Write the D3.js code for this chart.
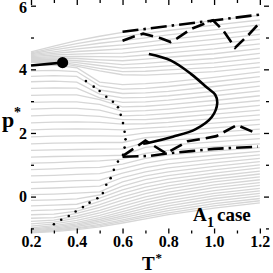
<!DOCTYPE html>
<html lang="en">
<head>
<meta charset="UTF-8">
<title>A1 case</title>
<script src="https://d3js.org/d3.v7.min.js"></script>
<style>
  body { margin: 0; background: #fff; }
  svg { display: block; }
</style>
</head>
<body>
<div id="main"></div>
<script>
// temperatures where every grey isochore is sampled
var isoT = [0.2, 0.3, 0.4, 0.5, 0.6, 0.7, 0.8, 1.0, 1.2];

// upper fan of isochores (p* at each isoT)
var fanLines = [
  [4.55, 4.73, 4.90, 5.04, 5.16, 5.26, 5.36, 5.54, 5.70],
  [4.52, 4.67, 4.81, 4.93, 5.03, 5.13, 5.22, 5.39, 5.55],
  [4.49, 4.61, 4.72, 4.82, 4.90, 4.99, 5.08, 5.24, 5.40],
  [4.46, 4.55, 4.64, 4.71, 4.77, 4.85, 4.94, 5.09, 5.25],
  [4.43, 4.50, 4.56, 4.60, 4.64, 4.72, 4.80, 4.94, 5.10],
  [4.40, 4.45, 4.48, 4.50, 4.51, 4.58, 4.66, 4.79, 4.95],
  [4.37, 4.40, 4.41, 4.40, 4.39, 4.45, 4.52, 4.64, 4.80],
  [4.34, 4.36, 4.34, 4.30, 4.27, 4.32, 4.38, 4.49, 4.65],
  [4.31, 4.32, 4.27, 4.21, 4.15, 4.19, 4.24, 4.34, 4.50],
  [4.28, 4.28, 4.21, 4.12, 4.04, 4.06, 4.11, 4.20, 4.35],
  [4.25, 4.25, 4.15, 4.03, 3.93, 3.94, 3.98, 4.06, 4.21],
  [4.22, 4.22, 4.10, 3.95, 3.83, 3.82, 3.85, 3.93, 4.07]
];

// middle isochores, kinking at the dotted line
var midLines = [
  [4.12, 4.13, 4.05, 3.60, 3.52, 3.55, 3.60, 3.75, 3.92],
  [3.95, 3.97, 3.93, 3.48, 3.38, 3.40, 3.46, 3.61, 3.77],
  [3.78, 3.80, 3.78, 3.35, 3.24, 3.26, 3.31, 3.46, 3.62],
  [3.61, 3.63, 3.60, 3.22, 3.10, 3.12, 3.17, 3.31, 3.47],
  [3.40, 3.42, 3.41, 3.10, 2.96, 2.98, 3.03, 3.17, 3.32],
  [3.18, 3.20, 3.20, 3.05, 2.82, 2.84, 2.89, 3.02, 3.17],
  [2.96, 2.98, 2.98, 2.90, 2.68, 2.70, 2.75, 2.88, 3.02],
  [2.75, 2.77, 2.77, 2.72, 2.54, 2.56, 2.61, 2.73, 2.87],
  [2.54, 2.56, 2.56, 2.52, 2.42, 2.42, 2.47, 2.59, 2.72],
  [2.32, 2.34, 2.35, 2.33, 2.28, 2.29, 2.33, 2.45, 2.57],
  [2.10, 2.12, 2.13, 2.12, 2.10, 2.15, 2.19, 2.31, 2.42],
  [1.88, 1.90, 1.91, 1.91, 1.90, 2.00, 2.05, 2.16, 2.27],
  [1.66, 1.68, 1.69, 1.70, 1.70, 1.85, 1.91, 2.02, 2.12],
  [1.45, 1.47, 1.48, 1.49, 1.50, 1.70, 1.77, 1.87, 1.97],
  [1.24, 1.26, 1.27, 1.28, 1.30, 1.55, 1.62, 1.72, 1.82]
];

// lower isochores
var lowLines = [
  [1.05, 1.07, 1.10, 1.12, 1.18, 1.36, 1.45, 1.56, 1.66],
  [0.85, 0.87, 0.90, 0.92, 1.02, 1.20, 1.31, 1.43, 1.54],
  [0.65, 0.67, 0.70, 0.72, 0.88, 1.05, 1.17, 1.30, 1.42],
  [0.45, 0.47, 0.50, 0.52, 0.74, 0.91, 1.03, 1.18, 1.31],
  [0.25, 0.27, 0.30, 0.33, 0.60, 0.78, 0.90, 1.06, 1.20],
  [0.06, 0.08, 0.11, 0.15, 0.46, 0.65, 0.78, 0.95, 1.10],
  [-0.12, -0.10, -0.07, 0.05, 0.33, 0.53, 0.66, 0.84, 1.00],
  [-0.29, -0.27, -0.24, -0.05, 0.21, 0.41, 0.55, 0.74, 0.90],
  [-0.44, -0.42, -0.38, -0.15, 0.10, 0.30, 0.44, 0.64, 0.80],
  [-0.57, -0.55, -0.46, -0.25, -0.01, 0.19, 0.34, 0.55, 0.71],
  [-0.68, -0.66, -0.53, -0.34, -0.11, 0.09, 0.24, 0.46, 0.62],
  [-0.78, -0.74, -0.61, -0.43, -0.21, -0.01, 0.14, 0.37, 0.53],
  [-0.86, -0.80, -0.68, -0.51, -0.30, -0.10, 0.05, 0.28, 0.44],
  [-0.93, -0.86, -0.75, -0.59, -0.39, -0.19, -0.04, 0.19, 0.35],
  [-0.98, -0.91, -0.81, -0.66, -0.47, -0.28, -0.13, 0.10, 0.26],
  [-1.02, -0.95, -0.86, -0.72, -0.54, -0.36, -0.21, 0.02, 0.18],
  [-1.05, -0.99, -0.90, -0.77, -0.61, -0.44, -0.29, -0.06, 0.10],
  [-1.08, -1.02, -0.94, -0.82, -0.67, -0.51, -0.37, -0.14, 0.02],
  [-1.10, -1.05, -0.98, -0.87, -0.73, -0.58, -0.44, -0.22, -0.06],
  [-1.12, -1.08, -1.01, -0.91, -0.78, -0.64, -0.51, -0.29, -0.13],
  [-1.14, -1.10, -1.04, -0.95, -0.83, -0.70, -0.57, -0.36, -0.20]
];

// dotted line (each dot)
var dotT = [0.44, 0.474, 0.50, 0.529, 0.558, 0.58, 0.592, 0.602, 0.609, 0.613, 0.609, 0.602,
            0.58, 0.562, 0.548, 0.529, 0.514, 0.49, 0.456, 0.427, 0.395, 0.365, 0.332, 0.30];
var dotP = [3.63, 3.455, 3.32, 3.14, 2.98, 2.81, 2.57, 2.31, 2.04, 1.80, 1.54, 1.31,
            1.10, 0.84, 0.58, 0.37, 0.11, -0.05, -0.19, -0.33, -0.47, -0.61, -0.73, -0.87];

// solid line to the critical point
var critT = [0.2, 0.338];
var critP = [4.12, 4.21];

// solid C-shaped curve
var curveT = [0.69, 0.72, 0.82, 0.92, 0.99, 1.014, 1.005, 0.97, 0.90, 0.81, 0.715];
var curveP = [1.66, 1.70, 1.88, 2.12, 2.50, 2.95, 3.20, 3.42, 3.85, 4.28, 4.48];

// dashed lines
var dashUpT = [0.60, 0.65, 0.69, 0.77, 0.81, 0.84, 0.90, 0.995, 1.04, 1.092, 1.15, 1.20];
var dashUpP = [4.90, 5.03, 5.12, 4.97, 4.86, 4.98, 5.27, 5.54, 5.22, 4.68, 5.08, 5.47];
var dashLoT = [0.60, 0.70, 0.79, 0.885, 0.96, 1.01, 1.10, 1.19];
var dashLoP = [1.27, 1.76, 1.36, 1.74, 1.83, 1.90, 2.25, 1.97];

// dash-dot lines
var ddUpT = [0.60, 1.20];
var ddUpP = [5.18, 5.72];
var ddLoT = [0.60, 0.72, 0.80, 0.90, 1.00, 1.19];
var ddLoP = [1.25, 1.28, 1.36, 1.43, 1.50, 1.57];

// ticks
var xMajor = [0.2, 0.4, 0.6, 0.8, 1.0, 1.2];
var xLabels = ["0.2", "0.4", "0.6", "0.8", "1.0", "1.2"];
var xMinor = [0.3, 0.5, 0.7, 0.9, 1.1];
var yMajor = [0, 2, 4, 6];
var yLabels = ["0", "2", "4", "6"];
var yMinor = [-1, 1, 3, 5];

var W = 273, H = 273;
var serif = "'Liberation Serif', 'Times New Roman', serif";

var svg = d3.select("#main").append("svg")
  .attr("width", W)
  .attr("height", H);

var x = d3.scaleLinear().domain([0.2, 1.24]).range([31, 269]);
var y = d3.scaleLinear().domain([-1.16, 6]).range([233.5, 5.7]);

//grey isochores
var allLines = fanLines.concat(midLines, lowLines);
var isoLine = d3.line()
  .x(function(d, i){ return x(isoT[i]); })
  .y(function(d){ return y(d); });

svg.append("g").selectAll("path")
  .data(allLines)
  .enter()
  .append("path")
  .attr("d", isoLine)
  .attr("fill", "none")
  .attr("stroke", "#d6d6d6")
  .attr("stroke-width", 1.3);

function pairs(ts, ps){
  return ts.map(function(t, i){ return [t, ps[i]]; });
}
var xyLine = d3.line()
  .x(function(d){ return x(d[0]); })
  .y(function(d){ return y(d[1]); });

// dashed / dash-dot lines
function drawLine(ts, ps, dash, curve){
  var gen = xyLine.curve(curve || d3.curveLinear);
  svg.append("path")
    .attr("d", gen(pairs(ts, ps)))
    .attr("fill", "none")
    .attr("stroke", "#000")
    .attr("stroke-width", 2.6)
    .attr("stroke-dasharray", dash);
}
drawLine(ddUpT, ddUpP, "16,5,2.5,5");
drawLine(ddLoT, ddLoP, "16,5,2.5,5");
drawLine(dashUpT, dashUpP, "13,6");
drawLine(dashLoT, dashLoP, "13,6");
drawLine(curveT, curveP, null, d3.curveCatmullRom);
drawLine(critT, critP, null);

// dots
svg.append("g").selectAll("circle")
  .data(pairs(dotT, dotP))
  .enter()
  .append("circle")
  .attr("cx", function(d){ return x(d[0]); })
  .attr("cy", function(d){ return y(d[1]); })
  .attr("r", 1.3)
  .attr("fill", "#000");

// critical point
svg.append("circle")
  .attr("cx", x(critT[1]))
  .attr("cy", y(critP[1]))
  .attr("r", 5.6)
  .attr("fill", "#000");

// axes (ticks point inwards on all four sides)
function styleAxis(g){
  g.select(".domain").remove();
  g.selectAll("line").attr("stroke", "#000").attr("stroke-width", 1.3);
  g.selectAll("text")
    .attr("font-family", serif)
    .attr("font-weight", "bold")
    .attr("font-size", 16)
    .attr("fill", "#000");
}
var bottom = y.range()[0], top = y.range()[1];
var left = x.range()[0], right = x.range()[1];

svg.append("g").attr("transform", "translate(0," + bottom + ")")
  .call(d3.axisBottom(x).tickValues(xMajor).tickSize(-5).tickPadding(2)
    .tickFormat(function(d, i){ return xLabels[i]; }))
  .call(styleAxis);
svg.append("g").attr("transform", "translate(0," + bottom + ")")
  .call(d3.axisBottom(x).tickValues(xMinor).tickSize(-3).tickFormat(""))
  .call(styleAxis);
svg.append("g").attr("transform", "translate(0," + top + ")")
  .call(d3.axisTop(x).tickValues(xMajor).tickSize(-5).tickFormat(""))
  .call(styleAxis);
svg.append("g").attr("transform", "translate(0," + top + ")")
  .call(d3.axisTop(x).tickValues(xMinor).tickSize(-3).tickFormat(""))
  .call(styleAxis);

var yAxisG = svg.append("g").attr("transform", "translate(" + left + ",0)")
  .call(d3.axisLeft(y).tickValues(yMajor).tickSize(-5).tickPadding(4)
    .tickFormat(function(d, i){ return yLabels[i]; }))
  .call(styleAxis);
// keep the top label "6" inside the picture
yAxisG.selectAll("text").filter(function(d){ return d === 6; }).attr("y", 1.5);
svg.append("g").attr("transform", "translate(" + left + ",0)")
  .call(d3.axisLeft(y).tickValues(yMinor).tickSize(-3).tickFormat(""))
  .call(styleAxis);
svg.append("g").attr("transform", "translate(" + right + ",0)")
  .call(d3.axisRight(y).tickValues(yMajor).tickSize(-5).tickFormat(""))
  .call(styleAxis);
svg.append("g").attr("transform", "translate(" + right + ",0)")
  .call(d3.axisRight(y).tickValues(yMinor).tickSize(-3).tickFormat(""))
  .call(styleAxis);

// frame
svg.append("rect")
  .attr("x", left).attr("y", top)
  .attr("width", right - left).attr("height", bottom - top)
  .attr("fill", "none")
  .attr("stroke", "#000")
  .attr("stroke-width", 1.6);

// axis titles
var pLab = svg.append("text")
  .attr("font-family", serif).attr("font-weight", "bold");
pLab.append("tspan").attr("x", 2).attr("y", 127).attr("font-size", 22).text("p");
pLab.append("tspan").attr("x", 14).attr("y", 117).attr("font-size", 14).text("*");

var tLab = svg.append("text")
  .attr("font-family", serif).attr("font-weight", "bold");
tLab.append("tspan").attr("x", 142).attr("y", 270).attr("font-size", 19).text("T");
tLab.append("tspan").attr("x", 155.5).attr("y", 262).attr("font-size", 13).text("*");

// case label
var cLab = svg.append("text")
  .attr("font-family", serif).attr("font-weight", "bold");
cLab.append("tspan").attr("x", 193).attr("y", 220.5).attr("font-size", 19).text("A");
cLab.append("tspan").attr("x", 207).attr("y", 226.5).attr("font-size", 14).text("1");
cLab.append("tspan").attr("x", 217).attr("y", 220.5).attr("font-size", 19).text("case");
</script>
</body>
</html>
